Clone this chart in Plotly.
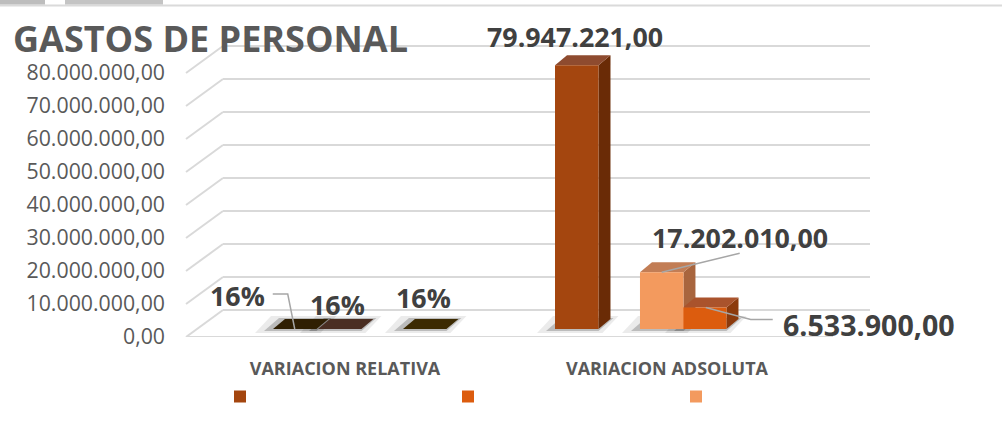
import plotly.graph_objects as go

# ---------------- data ----------------
categories = ["VARIACION RELATIVA", "VARIACION ADSOLUTA"]
serie1 = [0.16, 79947221.00]
serie2 = [0.16, 6533900.00]
serie3 = [0.16, 17202010.00]
y_ticks = [0, 10000000, 20000000, 30000000, 40000000, 50000000, 60000000, 70000000, 80000000]
title_text = "GASTOS DE PERSONAL"

# ---------------- geometry helpers ----------------
W, H = 1006, 427
def PX(px):
    return px / W
def PY(py):
    return 1 - py / H

X_DOM = (168, 870)          # x-axis domain (px)
CAT_PX = (345, 667)         # category centres (px)
UNIT = CAT_PX[1] - CAT_PX[0]
x_range = [-(CAT_PX[0] - X_DOM[0]) / UNIT, 1 + (X_DOM[1] - CAT_PX[1]) / UNIT]
Y0_PX, Y80_PX = 337, 73     # px of 0 and 80M on the front plane
YMAX_TICK = 80000000
PXY = (Y0_PX - Y80_PX) / YMAX_TICK
YTOP = 95000000
YTOP_PX = Y0_PX - YTOP * PXY

def ux(px):
    return px / UNIT
def uy(px):
    return px / PXY

BASE = uy(8)                # bars stand slightly behind the front edge of the floor
DX, DY = ux(12), uy(10)     # bar depth
WALL = uy(27)               # back wall depth (vertical)
BAR_W = 0.135

def es_num(v):
    s = f"{v:,.2f}"
    return s.replace(",", "X").replace(".", ",").replace("X", ".")

def es_pct(v):
    return f"{v*100:.0f}%"

series = [
    dict(values=serie1, front="#A4460F", top="#8E4B2F", side="#6A2B06", flat="#2F1F03",
         offs=[-0.2236, -0.3478], lab=[(-57, 34), (-2, 29)]),
    dict(values=serie2, front="#DC5C0E", top="#AA532C", side="#8C3A0C", flat="#3C2A02",
         offs=[0.18, 0.0497], lab=[(-1, 32), (164, -17)]),
    dict(values=serie3, front="#F39A5E", top="#C27D55", side="#A8653E", flat="#4A2E22",
         offs=[-0.0839, -0.0839], lab=[(-2, 25), (78, 35)]),
]

fig = go.Figure()
for s in series:
    fig.add_trace(go.Bar(
        x=[0, 1], y=s["values"], base=[BASE, BASE], offset=s["offs"], width=BAR_W,
        marker=dict(color=s["front"], line=dict(width=0)),
        name=" ", showlegend=True,
        customdata=categories,
        hovertemplate="%{customdata}: %{y:,.2f}<extra></extra>",
    ))

shapes = []
grid_col = "#D9D9D9"
# back wall gridlines + left slanted connectors
for v in y_ticks:
    shapes.append(dict(type="line", xref="paper", yref="y", x0=PX(223), x1=PX(870),
                       y0=v + WALL, y1=v + WALL, line=dict(color=grid_col, width=2), layer="below"))
    shapes.append(dict(type="line", xref="paper", yref="y", x0=PX(186), x1=PX(223),
                       y0=v, y1=v + WALL, line=dict(color=grid_col, width=2), layer="below"))
# floor front edge
shapes.append(dict(type="line", xref="paper", yref="y", x0=PX(186), x1=PX(833), y0=0, y1=0,
                   line=dict(color=grid_col, width=2), layer="below"))

bars = []
for s in series:
    for i in range(2):
        x0 = i + s["offs"][i]
        bars.append((x0, s, i))
bars.sort(key=lambda b: b[0])

def path(pts):
    return "M" + "L".join(f"{x},{y}" for x, y in pts) + "Z"

# shadows
for x0, s, i in bars:
    x1 = x0 + BAR_W
    shapes.append(dict(type="path", xref="x", yref="y", layer="below", line=dict(width=0),
                       fillcolor="rgba(0,0,0,0.08)",
                       path=path([(x0 - ux(18), BASE - uy(4)), (x1 + ux(4), BASE - uy(4)),
                                  (x1 + DX + ux(8), BASE + DY + uy(3)), (x0 + DX - ux(14), BASE + DY + uy(3))])))
    shapes.append(dict(type="path", xref="x", yref="y", layer="below", line=dict(width=0),
                       fillcolor="rgba(0,0,0,0.20)",
                       path=path([(x0 - ux(9), BASE - uy(2)), (x1, BASE - uy(2)),
                                  (x1 + DX + ux(3), BASE + DY + uy(1)), (x0 + DX - ux(6), BASE + DY + uy(1))])))
# sides and tops
for x0, s, i in bars:
    x1 = x0 + BAR_W
    v = s["values"][i]
    top = BASE + v
    if v > 1e5:
        shapes.append(dict(type="path", xref="x", yref="y", layer="below", line=dict(width=0),
                           fillcolor=s["side"],
                           path=path([(x1, BASE), (x1, top), (x1 + DX, top + DY), (x1 + DX, BASE + DY)])))
        tcol = s["top"]
    else:
        tcol = s["flat"]
    shapes.append(dict(type="path", xref="x", yref="y", layer="below", line=dict(width=0),
                       fillcolor=tcol,
                       path=path([(x0, top), (x1, top), (x1 + DX, top + DY), (x0 + DX, top + DY)])))

# leader lines
lead = dict(color="#A6A6A6", width=1.5)
c = 0 + series[0]["offs"][0] + BAR_W / 2
shapes.append(dict(type="path", xref="x", yref="y", line=lead, layer="above",
                   path=f"M{c},{BASE}L{c - ux(7)},{BASE + uy(35)}L{c - ux(22)},{BASE + uy(35)}"))
c = 1 + series[2]["offs"][1] + BAR_W / 2
v = BASE + series[2]["values"][1]
shapes.append(dict(type="path", xref="x", yref="y", line=lead, layer="above",
                   path=f"M{c},{v}L{c + ux(78)},{v + uy(19)}"))
c = 1 + series[1]["offs"][1] + BAR_W / 2
v = BASE + series[1]["values"][1]
shapes.append(dict(type="path", xref="x", yref="y", line=lead, layer="above",
                   path=f"M{c + ux(1)},{v}L{c + ux(46)},{v - uy(12)}L{c + ux(68)},{v - uy(12)}"))

# top decoration (window chrome remnants)
shapes.append(dict(type="line", xref="paper", yref="paper", x0=0, x1=PX(1002), y0=PY(5.5), y1=PY(5.5),
                   line=dict(color="#DADADA", width=2)))
shapes.append(dict(type="rect", xref="paper", yref="paper", x0=0, x1=PX(45), y0=PY(4.5), y1=1,
                   line=dict(width=0), fillcolor="#BDBDBD"))
shapes.append(dict(type="rect", xref="paper", yref="paper", x0=PX(65), x1=PX(163), y0=PY(4.5), y1=1,
                   line=dict(width=0), fillcolor="#C4C4C4"))

# data labels
annotations = []
for s in series:
    for i in range(2):
        v = s["values"][i]
        txt = es_pct(v) if i == 0 else es_num(v)
        size = 28.6 if (i == 1 and s is series[1]) else 26.8
        annotations.append(dict(x=i + s["offs"][i] + BAR_W / 2, y=BASE + v, xref="x", yref="y",
                                text=f"<b>{txt}</b>", showarrow=False,
                                xshift=s["lab"][i][0], yshift=s["lab"][i][1],
                                xanchor="center", yanchor="middle",
                                font=dict(family="Open Sans", size=size, color="#404040")))

fig.update_layout(
    width=W, height=H,
    margin=dict(l=0, r=0, t=0, b=0, autoexpand=False),
    paper_bgcolor="white", plot_bgcolor="rgba(0,0,0,0)",
    barmode="overlay",
    title=dict(text=f"<b>{title_text}</b>", x=PX(13), xanchor="left", y=PY(39.5), yanchor="middle",
               font=dict(family="Open Sans", size=36, color="#595959"), automargin=False),
    xaxis=dict(domain=[PX(X_DOM[0]), PX(X_DOM[1])], range=x_range, automargin=False,
               tickvals=[0, 1], ticktext=[f"<b>{c}</b>" for c in categories],
               showgrid=False, zeroline=False, showline=False, ticks="", ticklabelstandoff=19,
               tickfont=dict(family="Open Sans", size=18, color="#595959"), fixedrange=True),
    yaxis=dict(domain=[PY(Y0_PX), PY(YTOP_PX)], range=[0, YTOP], automargin=False,
               tickvals=y_ticks, ticktext=[es_num(t) for t in y_ticks], ticklabelstandoff=2,
               showgrid=False, zeroline=False, showline=False, ticks="",
               tickfont=dict(family="Open Sans", size=21.3, color="#595959"), fixedrange=True),
    shapes=shapes,
    annotations=annotations,
    showlegend=True,
    legend=dict(orientation="h", x=PX(220), y=PY(396.5), xanchor="left", yanchor="middle",
                entrywidth=183, entrywidthmode="pixels", bgcolor="rgba(0,0,0,0)",
                font=dict(size=12), traceorder="normal"),
)

fig.write_html("out.html", config=dict(displayModeBar=False),
               post_script="document.body.style.margin='0';document.body.style.overflow='hidden';")
